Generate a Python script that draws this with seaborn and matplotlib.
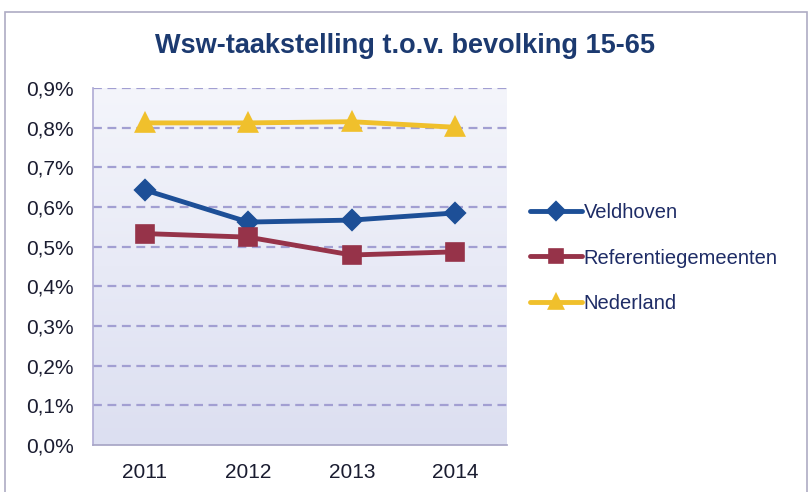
import numpy as np
import pandas as pd
import matplotlib.pyplot as plt
import seaborn as sns
from matplotlib.ticker import FuncFormatter, FixedLocator
from matplotlib.patches import Rectangle
from matplotlib.colors import LinearSegmentedColormap

sns.set_theme(style="white")
plt.rcParams["font.family"] = ["Liberation Sans", "DejaVu Sans"]

years = ["2011", "2012", "2013", "2014"]
veldhoven = [0.643, 0.562, 0.567, 0.585]
referentie = [0.533, 0.524, 0.479, 0.487]
nederland = [0.812, 0.812, 0.815, 0.801]
series_names = ["Veldhoven", "Referentiegemeenten", "Nederland"]
y_ticks = [0.0, 0.1, 0.2, 0.3, 0.4, 0.5, 0.6, 0.7, 0.8, 0.9]

colors = ["#1d4f97", "#963349", "#f0c02c"]
markers = ["D", "s", "^"]
marker_sizes = {"D": 9, "s": 11, "^": 11}

df = pd.DataFrame({
    "jaar": years * 3,
    "waarde": veldhoven + referentie + nederland,
    "reeks": np.repeat(series_names, len(years)),
})

fig = plt.figure(figsize=(8.1, 4.92), dpi=100)
ax = fig.add_axes([93 / 810, 1 - 445 / 492, 414 / 810, 357 / 492])

# plot area gradient
grad = np.linspace(0, 1, 256).reshape(-1, 1)
cmap = LinearSegmentedColormap.from_list("bg", ["#f4f5fb", "#e8eaf6", "#dcdff1"])
ax.imshow(grad, extent=[0, 1, 0, 1], transform=ax.transAxes, aspect="auto",
          cmap=cmap, zorder=0)

sns.pointplot(
    data=df, x="jaar", y="waarde", hue="reeks", palette=colors,
    markers=markers, linestyles="-", errorbar=None, dodge=False,
    linewidth=3.5, ax=ax, zorder=3,
)
for line in ax.lines:
    m = line.get_marker()
    if m in marker_sizes:
        line.set_markersize(marker_sizes[m])

ax.set_xlim(-0.5, 3.5)
ax.set_ylim(0, 0.9)
ax.yaxis.set_major_locator(FixedLocator(y_ticks))
ax.yaxis.set_major_formatter(FuncFormatter(lambda v, p: f"{v:.1f}%".replace(".", ",")))
ax.set_xticks([-0.5, 0.5, 1.5, 2.5, 3.5], minor=False)
ax.set_xticklabels([])
ax.set_xticks([0, 1, 2, 3], minor=True)
ax.set_xticklabels(years, minor=True)
ax.tick_params(axis="x", which="major", length=6, width=1, color="#a8a6c6", direction="out")
ax.tick_params(axis="x", which="minor", length=0, pad=13, labelsize=15, labelcolor="#1a1c30")
ax.tick_params(axis="y", length=6, width=1, color="#a8a6c6", direction="out",
               labelsize=15, labelcolor="#1a1c30", pad=8)

for y in y_ticks[1:]:
    ax.axhline(y, color="#a29fd2", lw=1.6, ls=(0, (4, 2.5)), zorder=1)

for s in ["top", "right"]:
    ax.spines[s].set_visible(False)
ax.spines["left"].set_color("#b2aed6")
ax.spines["bottom"].set_color("#a8a6c6")
ax.set_xlabel("")
ax.set_ylabel("")

handles, labels = ax.get_legend_handles_labels()
leg = ax.legend(handles, labels, loc="center left", bbox_to_anchor=(512 / 810, 1 - 258 / 492),
                bbox_transform=fig.transFigure, frameon=False, fontsize=14.5,
                handlelength=2.6, handletextpad=0.05, labelspacing=1.3,
                labelcolor="#1e2c66")
for h in leg.legend_handles:
    h.set_markersize(8)

fig.text(405 / 810, 1 - 46 / 492, "Wsw-taakstelling t.o.v. bevolking 15-65",
         ha="center", va="center", fontsize=19.5, fontweight="bold", color="#1c3a70")

fig.patches.append(Rectangle((5 / 810, -0.02), 802 / 810, 1 - 12 / 492 + 0.02,
                             transform=fig.transFigure, fill=False,
                             edgecolor="#aeacc4", lw=1.2))

fig.savefig("out.png", dpi=100)
